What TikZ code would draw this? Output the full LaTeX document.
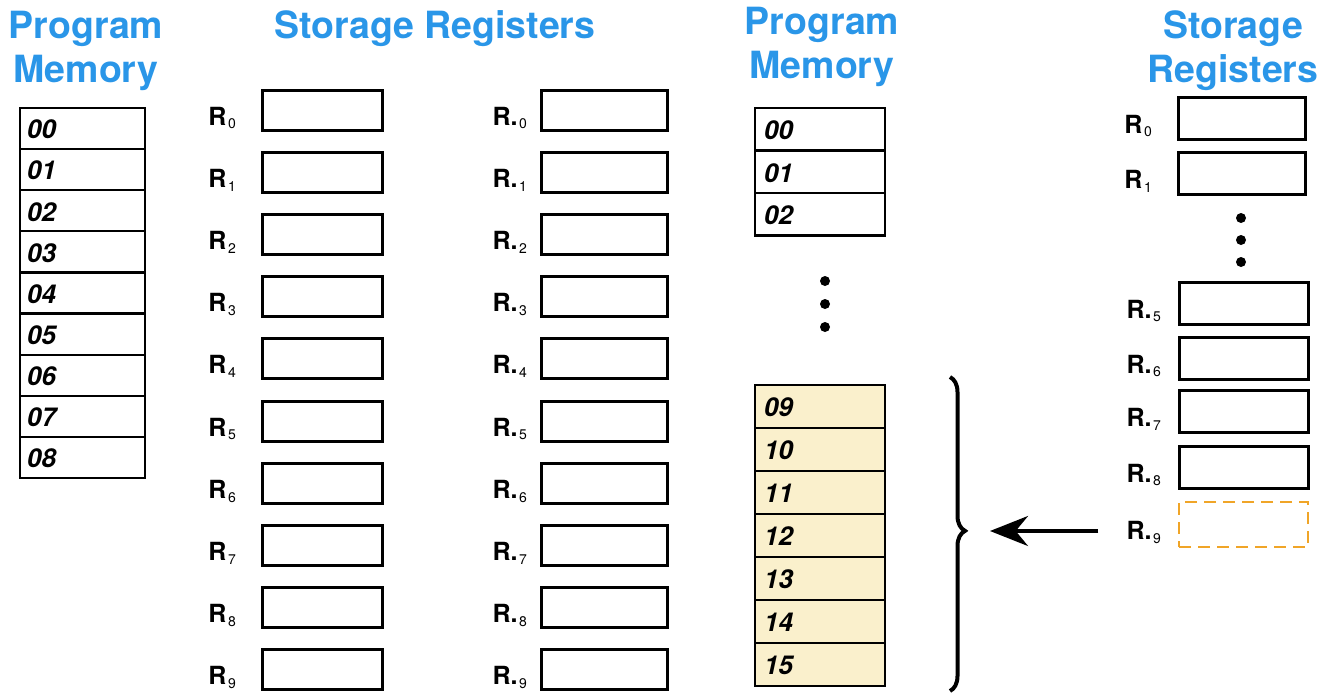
\documentclass[tikz,border=0pt]{standalone}
\usepackage{fontspec}
\setmainfont{TeX Gyre Heros}
\usetikzlibrary{arrows.meta,decorations.pathreplacing,calc}
\definecolor{titleblue}{RGB}{42,150,232}
\definecolor{memyellow}{RGB}{250,240,204}
\definecolor{dashorange}{RGB}{240,165,40}
\newcommand\regl[1]{\textbf{R}\kern1.5pt\raisebox{-0.3ex}{\fontsize{14}{14}\selectfont #1}}
\newcommand\regd[1]{\textbf{R.}\kern1.5pt\raisebox{-0.3ex}{\fontsize{14}{14}\selectfont #1}}
\tikzset{
  title/.style={text=titleblue, font=\fontsize{37.5}{44}\selectfont\bfseries, align=center, inner sep=0pt},
  memcell/.style={draw, line width=2.2pt, anchor=north west, minimum width=125pt, inner sep=0pt, outer sep=0pt},
  memnum/.style={anchor=west, font=\fontsize{26}{26}\selectfont\bfseries\itshape, inner sep=0pt},
  regbox/.style={draw, line width=3pt, anchor=north west, minimum height=40pt, inner sep=0pt, outer sep=0pt},
  reglab/.style={anchor=east, font=\fontsize{25}{25}\selectfont, inner sep=0pt},
  dotmark/.style={circle, fill=black, inner sep=0pt, minimum size=10pt},
}
\begin{document}
\begin{tikzpicture}[x=1pt,y=-1pt]
\useasboundingbox (0,0) rectangle (1323,694);
% titles
\node[title] (t1) at (86,51) {Program\\Memory};
\node[title] (t2) at (435,29) {Storage Registers};
\node[title] (t3) at (822,47) {Program\\Memory};
\node[title] (t4) at (1233,51) {Storage\\Registers};
% left program memory
\foreach \i in {0,...,8} {
  \node[memcell, minimum height=41.1pt] (pm\i) at (20,{108+41.1*\i}) {};
  \node[memnum] (pmn\i) at ($(pm\i.west)+(7,1)$) {0\i};
}
% storage registers column 1 and 2
\foreach \i in {0,...,9} {
  \node[regbox, minimum width=120pt] (ra\i) at (262,{90+62.2*\i}) {};
  \node[reglab] (ral\i) at ($(ra\i.west)+(-26,8)$) {\regl{\i}};
  \node[regbox, minimum width=126pt] (rb\i) at (541,{90+62.2*\i}) {};
  \node[reglab] (rbl\i) at ($(rb\i.west)+(-14,8)$) {\regd{\i}};
}
% right program memory
\node[memcell, minimum width=130pt, minimum height=42.5pt] (qm0) at (755,108) {};
\node[memcell, minimum width=130pt, minimum height=42.5pt] (qm1) at (755,150.5) {};
\node[memcell, minimum width=130pt, minimum height=42.5pt] (qm2) at (755,193) {};
\foreach \i in {0,1,2} {
  \node[memnum] (qmn\i) at ($(qm\i.west)+(9,1)$) {0\i};
}
\node[dotmark] (qd1) at (825,281) {};
\node[dotmark] (qd2) at (825,304) {};
\node[dotmark] (qd3) at (825,327) {};
\foreach \n [count=\i from 0] in {09,10,11,12,13,14,15} {
  \node[memcell, fill=memyellow, minimum width=130pt, minimum height=43pt] (qy\i) at (755,{385+43*\i}) {};
  \node[memnum] (qyn\i) at ($(qy\i.west)+(9,1)$) {\n};
}
% brace
\coordinate (bt) at (950,377);
\coordinate (bb) at (950,691);
\draw[line width=4pt, decoration={brace, amplitude=15pt, aspect=0.49}, decorate] (bt) -- (bb);
\coordinate (btip) at (966,531);
% right storage registers
\node[regbox, minimum width=127pt, minimum height=42pt] (sr0) at (1178,97) {};
\node[reglab] (srl0) at ($(sr0.west)+(-26,8)$) {\regl{0}};
\node[regbox, minimum width=127pt, minimum height=42pt] (sr1) at (1178,152) {};
\node[reglab] (srl1) at ($(sr1.west)+(-26,8)$) {\regl{1}};
\node[dotmark] (sd1) at (1241,218) {};
\node[dotmark] (sd2) at (1241,240) {};
\node[dotmark] (sd3) at (1241,262) {};
\foreach \i/\y in {5/282,6/337,7/390,8/446} {
  \node[regbox, minimum width=129pt, minimum height=42pt] (sr\i) at (1179,\y) {};
  \node[reglab] (srl\i) at ($(sr\i.west)+(-18,8)$) {\regd{\i}};
}
\node[draw=dashorange, line width=2.8pt, dash pattern=on 12pt off 7pt, anchor=north west, minimum width=129pt, minimum height=45pt, inner sep=0pt, outer sep=0pt] (sr9) at (1179,502) {};
\node[reglab] (srl9) at ($(sr9.west)+(-18,8)$) {\regd{9}};
% arrow
\draw[line width=3.5pt, -{Stealth[length=38pt, width=30pt]}, shorten <=28pt, shorten >=24pt] (srl9.west |- btip) -- (btip);
\end{tikzpicture}
\end{document}
